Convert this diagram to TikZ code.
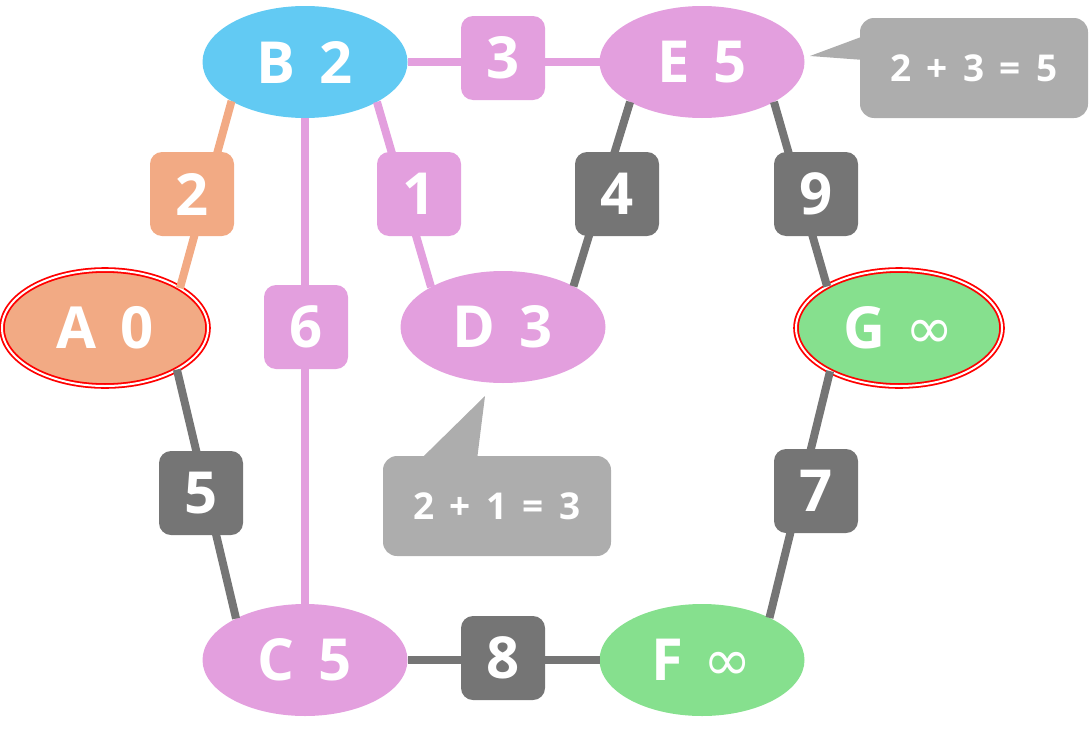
\documentclass[tikz,border=0pt]{standalone}
\usepackage{fontspec}
\setmainfont{Open Sans}
\newfontfamily\vertexfont[WordSpace=1.2]{Open Sans}
\newfontfamily\notefont[WordSpace=1.6]{Open Sans}
\newfontfamily\symbolfont{DejaVu Sans}
\usepackage{xcolor}
\usetikzlibrary{shapes.geometric, positioning}
\definecolor{skyblue}{HTML}{62CAF3}
\definecolor{orchid}{HTML}{E39FDE}
\definecolor{peach}{HTML}{F2AA84}
\definecolor{mint}{HTML}{86E08E}
\definecolor{slate}{HTML}{757575}
\definecolor{cloud}{HTML}{ADADAD}
\newcommand{\inftyglyph}{\hspace{-4pt}{\symbolfont\mdseries ∞}}

\begin{document}
\begin{tikzpicture}[x=1pt, y=-1pt,
  vertex/.style={ellipse, minimum width=205pt, minimum height=112pt, inner sep=0pt, outer sep=0pt,
    text=white, font=\vertexfont\bfseries\fontsize{58}{60}\selectfont},
  source/.style={vertex, draw=red, line width=1.8pt, double=white, double distance=2pt,
    minimum width=206pt, minimum height=116pt},
  weight/.style={rounded corners=12pt, minimum size=84pt, inner sep=0pt,
    text=white, font=\bfseries\fontsize{58}{60}\selectfont},
  edge/.style={line width=8pt},
  note/.style={fill=cloud, rounded corners=14pt, minimum width=228pt, minimum height=100pt,
    inner sep=0pt, text=white, font=\notefont\bfseries\fontsize{37}{40}\selectfont}]
\useasboundingbox (0,0) rectangle (1089,728);

% vertices
\node[source, fill=peach] (A) at (105,328) {A 0};
\node[vertex, fill=skyblue] (B) at (305,62) {B 2};
\node[vertex, fill=orchid] (C) at (305,660) {C 5};
\node[vertex, fill=orchid] (D) at (503,327) {D 3};
\node[vertex, fill=orchid] (E) at (702,62) {E 5};
\node[vertex, fill=mint] (F) at (702,660) {F \inftyglyph};
\node[source, fill=mint] (G) at (899,328) {G \inftyglyph};

% edges
\draw[edge, peach] (A.28) -- (B.208);
\draw[edge, orchid] (B.0) -- (E.180);
\draw[edge, orchid] (B.-29) -- (D.151);
\draw[edge, orchid] (B.-90) -- (C.90);
\draw[edge, slate] (A.-30) -- (C.149);
\draw[edge, slate] (D.30) -- (E.209);
\draw[edge, slate] (E.-29) -- (G.150);
\draw[edge, slate] (G.-148) -- (F.32);
\draw[edge, slate] (C.0) -- (F.180);

% weights
\node[weight, fill=peach] (wAB) at (192,194) {2};
\node[weight, fill=orchid] (wBE) at (503,58) {3};
\node[weight, fill=orchid] (wBD) at (419,194) {1};
\node[weight, fill=orchid] (wBC) at (306,327) {6};
\node[weight, fill=slate] (wAC) at (201,493) {5};
\node[weight, fill=slate] (wDE) at (617,194) {4};
\node[weight, fill=slate] (wEG) at (816,194) {9};
\node[weight, fill=slate] (wGF) at (816,491) {7};
\node[weight, fill=slate] (wCF) at (503,658) {8};

% notes
\node[note] (noteE) at (974,68) {2 + 3 = 5};
\coordinate (tipE) at (810,56);
\fill[cloud] (tipE) -- ([xshift=4pt, yshift=32pt]noteE.west) -- ([xshift=4pt, yshift=8pt]noteE.west) -- cycle;
\node[note] (noteD) at (497,506) {2 + 1 = 3};
\coordinate (tipD) at (485,396);
\fill[cloud] (tipD) -- ([xshift=-77pt, yshift=-4pt]noteD.north) -- ([xshift=-20pt, yshift=-4pt]noteD.north) -- cycle;
\end{tikzpicture}
\end{document}
